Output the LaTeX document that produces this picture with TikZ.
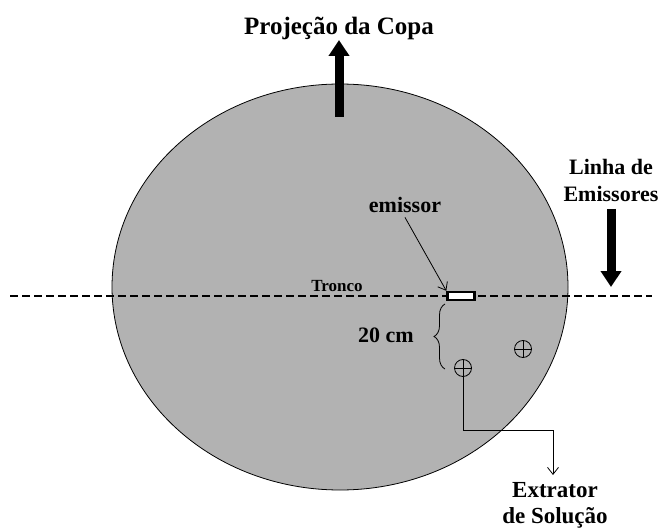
\documentclass[tikz,border=0pt]{standalone}
\usepackage{fontspec}
\setmainfont{Liberation Serif}
\usepackage{tikz}
\usetikzlibrary{arrows.meta,decorations.pathreplacing}
\definecolor{copagray}{RGB}{178,178,178}
\tikzstyle{bigtext} = [font=\fontsize{25}{28}\selectfont\bfseries, inner sep=0pt]
\tikzstyle{midtext} = [font=\fontsize{22}{27}\selectfont\bfseries, inner sep=0pt, align=center]
\tikzstyle{smalltext} = [font=\fontsize{17}{20}\selectfont\bfseries, inner sep=0pt]
\tikzstyle{fatarrow} = [line width=9pt, -{Triangle[width=20pt,length=16pt]}]
\tikzstyle{thinarrow} = [line width=0.8pt, -{Straight Barb[length=7pt,width=11pt]}]
\tikzstyle{extrator} = [draw, circle, line width=0.8pt, minimum size=17pt, inner sep=0pt]

\begin{document}
\begin{tikzpicture}[x=1pt,y=-1pt]
\useasboundingbox (0,0) rectangle (663,529);
% copa
\draw[fill=copagray, line width=0.8pt] (340,287) ellipse [x radius=228, y radius=203];
\node[bigtext, anchor=base] (copa) at (339,35) {Proje\c{c}\~ao da Copa};
\coordinate (copaBase) at (339,117);
\coordinate (copaTip) at (339,40);
\draw[fatarrow] (copaBase) -- (copaTip);
% linha de emissores
\coordinate (lineL) at (10,296);
\coordinate (lineR) at (652,296);
\draw[line width=1.6pt, dash pattern=on 8pt off 4pt] (lineL) -- (lineR);
\node[midtext, anchor=south] (linha) at (611,202) {Linha de\\Emissores};
\coordinate (linhaTip) at (611,287);
\draw[fatarrow] ([yshift=-7pt]linha.south) -- (linhaTip);
\node[smalltext, anchor=base] (tronco) at (337,291) {Tronco};
% emissor
\node[draw, fill=white, line width=2.4pt, minimum width=27pt, minimum height=8pt, inner sep=0pt] (emis) at (461,296) {};
\node[midtext, anchor=base] (emislabel) at (405,213) {emissor};
\draw[thinarrow] ([yshift=-4pt]emislabel.south) -- (emis.north west);
% 20 cm
\coordinate (braceTop) at (445,304);
\coordinate (braceBot) at (445,369);
\draw[line width=0.8pt, decorate, decoration={brace, amplitude=11pt}] (braceBot) -- (braceTop);
\node[midtext, anchor=base east] (dist) at (414,342) {20 cm};
% extratores
\node[extrator] (ext1) at (463,368) {};
\node[extrator] (ext2) at (523,349) {};
\foreach \e in {ext1,ext2}
  \draw[line width=0.8pt] (\e.north) -- (\e.south) (\e.west) -- (\e.east);
\node[font=\fontsize{23}{26}\selectfont\bfseries, inner sep=0pt, align=center, anchor=north] (extlabel) at (555,482) {Extrator\\de Solu\c{c}\~ao};
\coordinate (bend) at (553,430);
\coordinate (extTip) at (553,475);
\draw[line width=0.8pt] (ext1.south) |- (bend);
\draw[thinarrow] (bend) -- (extTip);
\end{tikzpicture}
\end{document}
